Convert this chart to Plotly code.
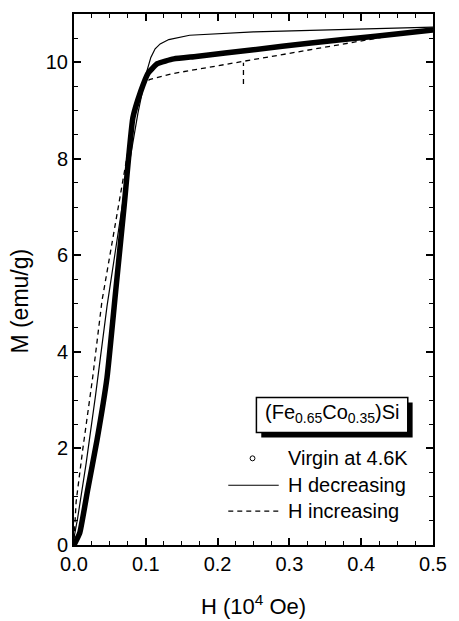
import plotly.graph_objects as go

# ---- data ----
H_virgin = [0.0, 0.008, 0.019, 0.032, 0.046, 0.058, 0.070, 0.082, 0.093, 0.103, 0.116, 0.139, 0.170, 0.250, 0.330, 0.420, 0.500]
M_virgin = [0.0, 0.25, 1.14, 2.17, 3.47, 5.25, 7.05, 8.85, 9.40, 9.77, 9.97, 10.07, 10.12, 10.26, 10.40, 10.54, 10.67]

H_dec = [0.0, 0.005, 0.017, 0.030, 0.046, 0.070, 0.089, 0.100, 0.107, 0.113, 0.120, 0.132, 0.161, 0.250, 0.500]
M_dec = [0.15, 0.55, 1.70, 3.10, 4.95, 7.30, 8.94, 9.74, 10.10, 10.28, 10.38, 10.47, 10.56, 10.63, 10.73]

H_inc = [0.0, 0.003, 0.012, 0.026, 0.039, 0.085, 0.093, 0.105, 0.139, 0.170, 0.500]
M_inc = [0.10, 0.90, 1.96, 3.47, 5.06, 9.00, 9.45, 9.64, 9.77, 9.85, 10.70]

H_mark = [0.236, 0.236]
M_mark = [9.55, 9.99]

x_range = [0, 0.5]
y_range = [0, 11]
y_ticks = [0, 2, 4, 6, 8, 10]

FONT = "Liberation Sans, Arial, Helvetica, sans-serif"

fig = go.Figure()
fig.add_trace(go.Scatter(x=H_virgin, y=M_virgin, mode="lines",
                         line=dict(color="black", width=5.5, shape="spline", smoothing=0.4),
                         showlegend=False))
fig.add_trace(go.Scatter(x=H_dec, y=M_dec, mode="lines",
                         line=dict(color="black", width=1.2), showlegend=False))
fig.add_trace(go.Scatter(x=H_inc, y=M_inc, mode="lines",
                         line=dict(color="black", width=1.3, dash="5px,4px"), showlegend=False))
fig.add_trace(go.Scatter(x=H_mark, y=M_mark, mode="lines",
                         line=dict(color="black", width=1.3, dash="5px,4px"), showlegend=False))

L, R, T, B = 74, 15, 12, 76
W, Hh = 459, 621
pw, ph = W - L - R, Hh - T - B


def px(x):
    return (x - L) / pw


def py(y):
    return (Hh - B - y) / ph


axis_common = dict(showline=True, linecolor="black", linewidth=2, mirror="allticks",
                   ticks="inside", ticklen=7, tickwidth=1.5, tickcolor="black",
                   showgrid=False, zeroline=False,
                   tickfont=dict(family=FONT, size=20, color="black"))

fig.update_xaxes(range=x_range, dtick=0.1, tickformat=".1f",
                 minor=dict(dtick=0.025, ticks="inside", ticklen=4, tickwidth=1.2, tickcolor="black"),
                 **axis_common)
fig.update_yaxes(range=y_range, tickvals=y_ticks,
                 minor=dict(dtick=0.5, ticks="inside", ticklen=4, tickwidth=1.2, tickcolor="black"),
                 **axis_common)

shapes = []
# legend box with shadow
bx0, bx1, by0, by1 = 262, 418, 397, 432
shapes.append(dict(type="rect", xref="paper", yref="paper",
                   x0=px(bx0 + 5), x1=px(bx1 + 5), y0=py(by1 + 5), y1=py(by0 + 5),
                   fillcolor="black", line=dict(width=0)))
shapes.append(dict(type="rect", xref="paper", yref="paper",
                   x0=px(bx0), x1=px(bx1), y0=py(by1), y1=py(by0),
                   fillcolor="white", line=dict(color="black", width=1.5)))
# legend samples
shapes.append(dict(type="circle", xref="paper", yref="paper",
                   x0=px(255.5), x1=px(260.5), y0=py(460.5), y1=py(455.5),
                   line=dict(color="black", width=1)))
shapes.append(dict(type="line", xref="paper", yref="paper",
                   x0=px(233), x1=px(285), y0=py(485), y1=py(485),
                   line=dict(color="black", width=1.2)))
shapes.append(dict(type="line", xref="paper", yref="paper",
                   x0=px(233), x1=px(285), y0=py(511), y1=py(511),
                   line=dict(color="black", width=1.3, dash="5px,4px")))

ann = []
ann.append(dict(xref="paper", yref="paper", x=px(340), y=py(413),
                text="(Fe<sub>0.65</sub>Co<sub>0.35</sub>)Si", showarrow=False,
                xanchor="center", yanchor="middle",
                font=dict(family=FONT, size=20, color="black")))
for txt, yy in [("Virgin at 4.6K", 458), ("H decreasing", 485), ("H increasing", 511)]:
    ann.append(dict(xref="paper", yref="paper", x=px(292), y=py(yy), text=txt,
                    showarrow=False, xanchor="left", yanchor="middle",
                    font=dict(family=FONT, size=20, color="black")))
# axis titles
ann.append(dict(xref="paper", yref="paper", x=px(259), y=py(605),
                text="H (10<sup>4</sup> Oe)", showarrow=False,
                xanchor="center", yanchor="middle",
                font=dict(family=FONT, size=22, color="black")))
ann.append(dict(xref="paper", yref="paper", x=px(18), y=py(300),
                text="M (emu/g)", showarrow=False, textangle=-90,
                xanchor="center", yanchor="middle",
                font=dict(family=FONT, size=23, color="black")))

fig.update_layout(width=W, height=Hh, margin=dict(l=L, r=R, t=T, b=B),
                  plot_bgcolor="white", paper_bgcolor="white",
                  shapes=shapes, annotations=ann, showlegend=False)

fig.write_html("out.html")
